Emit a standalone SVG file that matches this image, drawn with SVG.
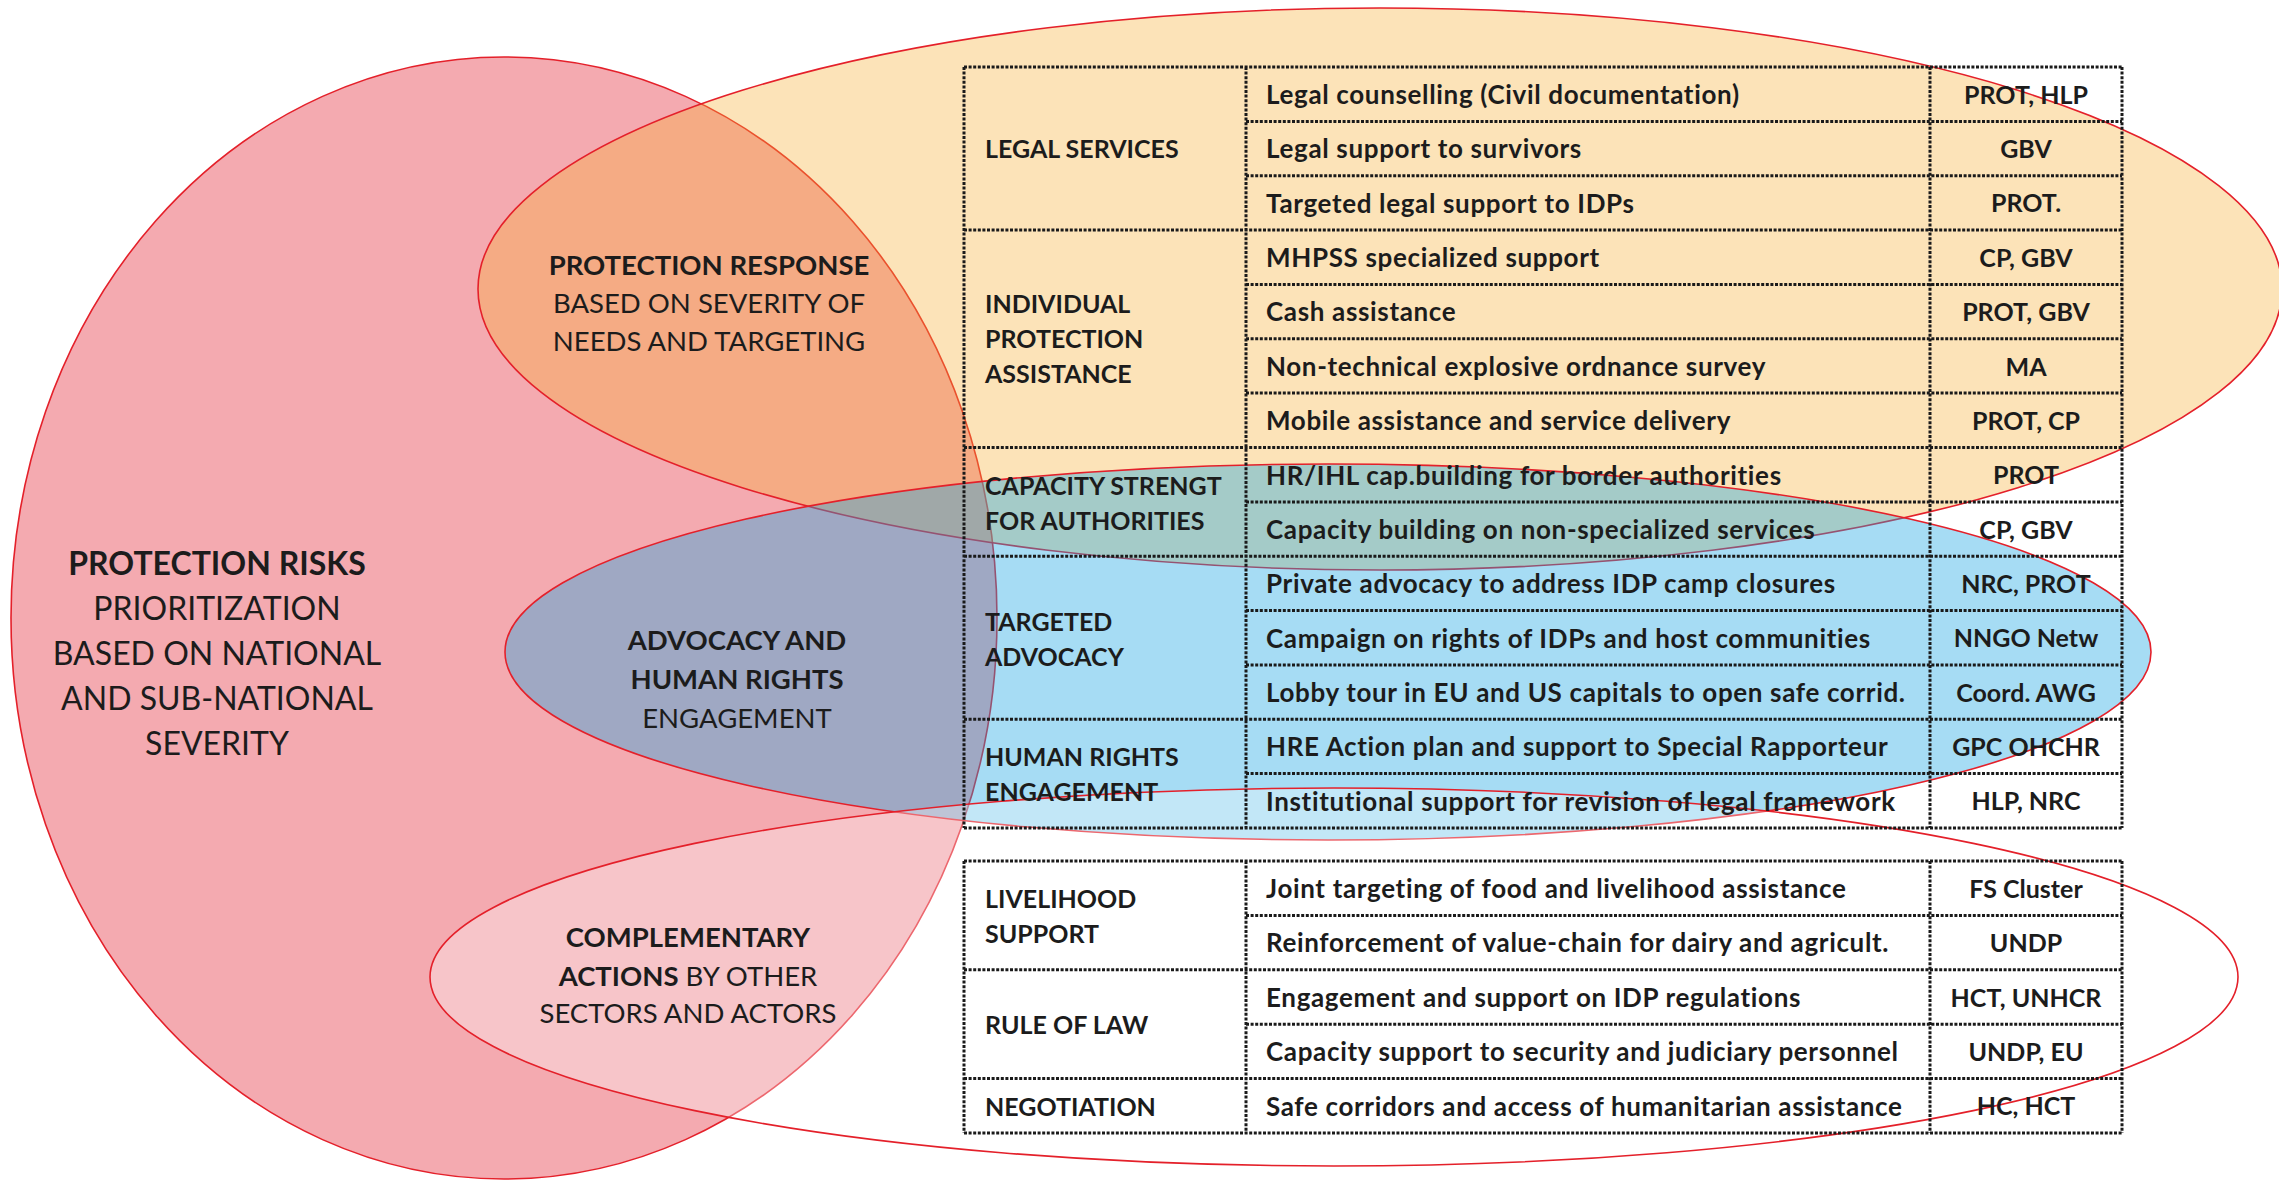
<svg xmlns="http://www.w3.org/2000/svg" width="2279" height="1182" viewBox="0 0 2279 1182">
<style>
.e{stroke:#E4202A;stroke-width:1.6}
.pink{fill:#F4AAB0}
.orange{fill:#F6AF34;fill-opacity:0.35}
.blue{fill:#1BA5E3;fill-opacity:0.39}
.comp{fill:#FFFFFF;fill-opacity:0.32}
text{font-family:Lato,"Liberation Sans",sans-serif;fill:#1c1c1c}
.t{font-size:25px;font-weight:700}
.w{font-size:26px;letter-spacing:0.65px}
.m{text-anchor:middle}
.big{font-size:32px;text-anchor:middle}
.lbl{font-size:27.5px;text-anchor:middle}
.b{font-weight:700}
.r{font-weight:400}
.dot{stroke:#1a1a1a;stroke-width:3;stroke-dasharray:3 1.6;fill:none}
</style>
<rect width="2279" height="1182" fill="#FFFFFF"/>
<g id="node-protection-risks">
<ellipse class="e pink" cx="504" cy="618" rx="493" ry="561"/>
<text class="big b" x="217" y="575">PROTECTION RISKS</text>
<text class="big r" x="217" y="620">PRIORITIZATION</text>
<text class="big r" x="217" y="665">BASED ON NATIONAL</text>
<text class="big r" x="217" y="710">AND SUB-NATIONAL</text>
<text class="big r" x="217" y="755">SEVERITY</text>
</g>
<g id="node-protection-response">
<ellipse class="e orange" cx="1380" cy="289" rx="902" ry="281"/>
<text class="lbl b" x="709" y="275">PROTECTION RESPONSE</text>
<text class="lbl r" x="709" y="313">BASED ON SEVERITY OF</text>
<text class="lbl r" x="709" y="351">NEEDS AND TARGETING</text>
</g>
<g id="node-advocacy">
<ellipse class="e blue" cx="1328" cy="652" rx="823" ry="188"/>
<text class="lbl b" x="737" y="650">ADVOCACY AND</text>
<text class="lbl b" x="737" y="689">HUMAN RIGHTS</text>
<text class="lbl r" x="737" y="728">ENGAGEMENT</text>
</g>
<g id="node-complementary">
<ellipse class="e comp" cx="1334" cy="977" rx="904" ry="189"/>
<text class="lbl b" x="688" y="947">COMPLEMENTARY</text>
<text class="lbl" x="688" y="985.5"><tspan class="b">ACTIONS</tspan><tspan class="r"> BY OTHER</tspan></text>
<text class="lbl r" x="688" y="1023">SECTORS AND ACTORS</text>
</g>
<g id="table-protection">
<path class="dot" d="M964 67H2122M964 230.1H2122M964 447.5H2122M964 556.2H2122M964 719.3H2122M964 828H2122M1246 121.4H2122M1246 175.7H2122M1246 284.4H2122M1246 338.8H2122M1246 393.1H2122M1246 501.9H2122M1246 610.6H2122M1246 664.9H2122M1246 773.6H2122M964 67V828M1246 67V828M1930 67V828M2122 67V828"/>
<text class="t" x="985" y="157.5">LEGAL SERVICES</text>
<text class="t" x="985" y="313">INDIVIDUAL</text>
<text class="t" x="985" y="348">PROTECTION</text>
<text class="t" x="985" y="383">ASSISTANCE</text>
<text class="t" x="985" y="494.5">CAPACITY STRENGT</text>
<text class="t" x="985" y="529.5">FOR AUTHORITIES</text>
<text class="t" x="985" y="631">TARGETED</text>
<text class="t" x="985" y="666">ADVOCACY</text>
<text class="t" x="985" y="766">HUMAN RIGHTS</text>
<text class="t" x="985" y="801">ENGAGEMENT</text>
<text class="t w" x="1266" y="104">Legal counselling (Civil documentation)</text>
<text class="t w" x="1266" y="158.4">Legal support to survivors</text>
<text class="t w" x="1266" y="212.7">Targeted legal support to IDPs</text>
<text class="t w" x="1266" y="267.1">MHPSS specialized support</text>
<text class="t w" x="1266" y="321.4">Cash assistance</text>
<text class="t w" x="1266" y="375.8">Non-technical explosive ordnance survey</text>
<text class="t w" x="1266" y="430.1">Mobile assistance and service delivery</text>
<text class="t w" x="1266" y="484.5">HR/IHL cap.building for border authorities</text>
<text class="t w" x="1266" y="538.9">Capacity building on non-specialized services</text>
<text class="t w" x="1266" y="593.2">Private advocacy to address IDP camp closures</text>
<text class="t w" x="1266" y="647.6">Campaign on rights of IDPs and host communities</text>
<text class="t w" x="1266" y="701.9">Lobby tour in EU and US capitals to open safe corrid.</text>
<text class="t w" x="1266" y="756.3">HRE Action plan and support to Special Rapporteur</text>
<text class="t w" x="1266" y="810.6">Institutional support for revision of legal framework</text>
<text class="t m" x="2026" y="103.7">PROT, HLP</text>
<text class="t m" x="2026" y="158.1">GBV</text>
<text class="t m" x="2026" y="212.4">PROT.</text>
<text class="t m" x="2026" y="266.8">CP, GBV</text>
<text class="t m" x="2026" y="321.1">PROT, GBV</text>
<text class="t m" x="2026" y="375.5">MA</text>
<text class="t m" x="2026" y="429.8">PROT, CP</text>
<text class="t m" x="2026" y="484.2">PROT</text>
<text class="t m" x="2026" y="538.6">CP, GBV</text>
<text class="t m" x="2026" y="592.9">NRC, PROT</text>
<text class="t m" x="2026" y="647.3">NNGO Netw</text>
<text class="t m" x="2026" y="701.6">Coord. AWG</text>
<text class="t m" x="2026" y="756">GPC OHCHR</text>
<text class="t m" x="2026" y="810.3">HLP, NRC</text>
</g>
<g id="table-complementary">
<path class="dot" d="M964 861H2122M964 969.8H2122M964 1078.6H2122M964 1133H2122M1246 915.4H2122M1246 1024.2H2122M964 861V1133M1246 861V1133M1930 861V1133M2122 861V1133"/>
<text class="t" x="985" y="908">LIVELIHOOD</text>
<text class="t" x="985" y="943">SUPPORT</text>
<text class="t" x="985" y="1034">RULE OF LAW</text>
<text class="t" x="985" y="1116">NEGOTIATION</text>
<text class="t w" x="1266" y="898">Joint targeting of food and livelihood assistance</text>
<text class="t w" x="1266" y="952.4">Reinforcement of value-chain for dairy and agricult.</text>
<text class="t w" x="1266" y="1006.8">Engagement and support on IDP regulations</text>
<text class="t w" x="1266" y="1061.2">Capacity support to security and judiciary personnel</text>
<text class="t w" x="1266" y="1115.6">Safe corridors and access of humanitarian assistance</text>
<text class="t m" x="2026" y="897.7">FS Cluster</text>
<text class="t m" x="2026" y="952.1">UNDP</text>
<text class="t m" x="2026" y="1006.5">HCT, UNHCR</text>
<text class="t m" x="2026" y="1060.9">UNDP, EU</text>
<text class="t m" x="2026" y="1115.3">HC, HCT</text>
</g>
<g id="connectors"/>
</svg>
